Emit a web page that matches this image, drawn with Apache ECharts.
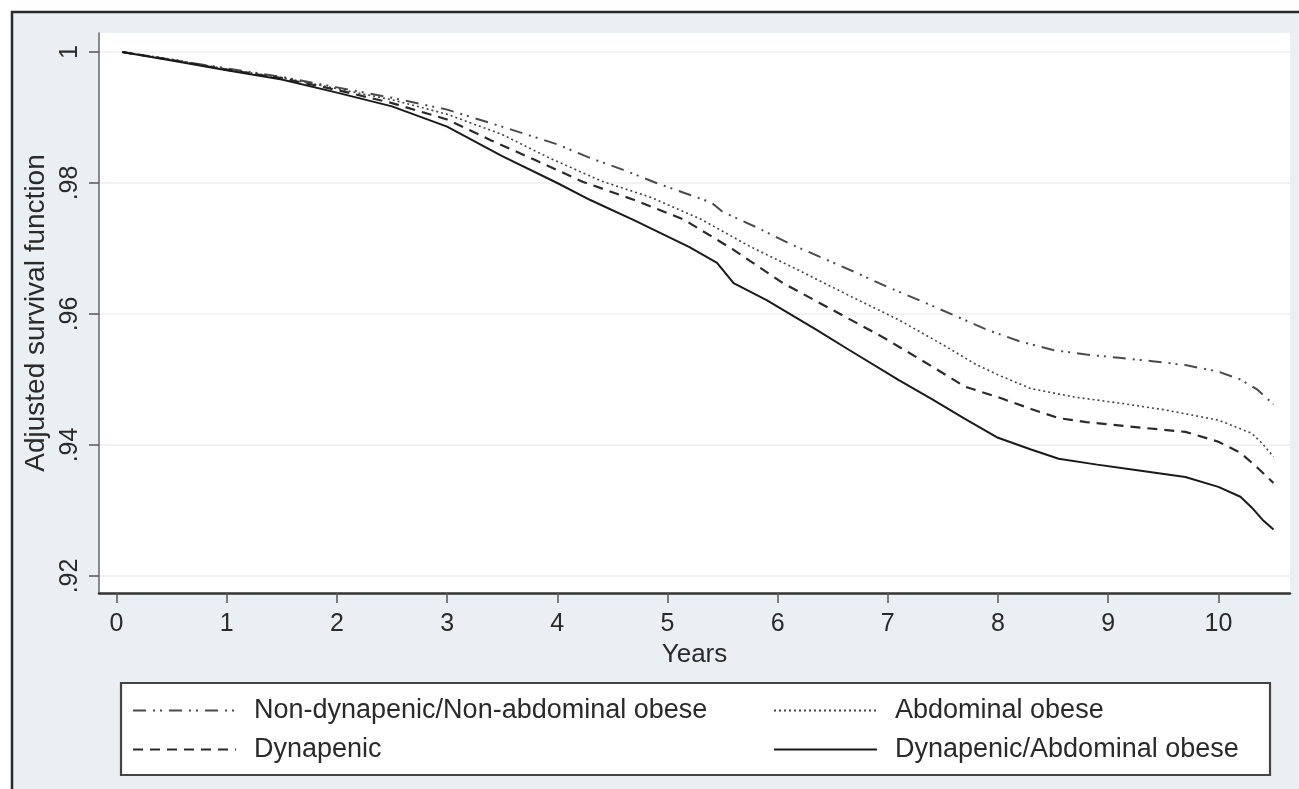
<!DOCTYPE html>
<html>
<head>
<meta charset="utf-8">
<script src="https://cdn.jsdelivr.net/npm/echarts@6/dist/echarts.min.js"></script>
<style>
html,body{margin:0;padding:0;background:#fff;}
#c{width:1299px;height:789px;}
</style>
</head>
<body>
<div id="c"></div>
<script>
// ---- data ----
const seriesNames = [
  'Non-dynapenic/Non-abdominal obese',
  'Abdominal obese',
  'Dynapenic',
  'Dynapenic/Abdominal obese'
];
const xTicks = [0,1,2,3,4,5,6,7,8,9,10];
const yTicks = [0.92,0.94,0.96,0.98,1];

const nonDynNonAbd = [[0.05,1.0],[0.5,0.9988],[1,0.9975],[1.5,0.9962],[2,0.9946],[2.5,0.9930],[3,0.9912],[3.5,0.9886],[4,0.9859],[4.3,0.9838],[4.6,0.9820],[4.9,0.9800],[5.2,0.9782],[5.4,0.9770],[5.5,0.9756],[5.8,0.9733],[6.1,0.9708],[6.4,0.9686],[6.7,0.9664],[7.0,0.9641],[7.3,0.9620],[7.6,0.9598],[7.9,0.9576],[8.2,0.9558],[8.5,0.9545],[8.8,0.9538],[9.1,0.9533],[9.4,0.9528],[9.7,0.9522],[10.0,0.9512],[10.2,0.9500],[10.35,0.9485],[10.5,0.9462]];
const abdominalObese = [[0.05,1.0],[0.5,0.9989],[1,0.9974],[1.5,0.9961],[2,0.9944],[2.5,0.9927],[3,0.9905],[3.5,0.9874],[3.93,0.9838],[4.4,0.9803],[4.85,0.9778],[5.3,0.9745],[5.75,0.9703],[6.2,0.9666],[6.65,0.9628],[7.1,0.9591],[7.5,0.9553],[7.8,0.9523],[8.0,0.9507],[8.3,0.9486],[8.7,0.9473],[9.1,0.9464],[9.5,0.9454],[10.0,0.9438],[10.3,0.9418],[10.4,0.9402],[10.5,0.9382]];
const dynapenic = [[0.05,1.0],[0.5,0.9988],[1,0.9973],[1.5,0.9960],[2,0.9942],[2.5,0.9922],[3,0.9897],[3.4,0.9865],[3.8,0.9835],[4.23,0.9802],[4.7,0.9774],[5.15,0.9744],[5.6,0.9698],[6.05,0.9647],[6.5,0.9606],[6.95,0.9565],[7.1,0.9550],[7.4,0.9520],[7.7,0.9489],[8.0,0.9473],[8.3,0.9455],[8.55,0.9441],[8.8,0.9435],[9.2,0.9428],[9.7,0.9420],[10.0,0.9405],[10.2,0.9388],[10.35,0.9366],[10.45,0.9350],[10.5,0.9342]];
const dynAbdObese = [[0.05,1.0],[0.5,0.9987],[1,0.9972],[1.5,0.9958],[2,0.9938],[2.5,0.9917],[3,0.9886],[3.5,0.9841],[4,0.9800],[4.3,0.9774],[4.7,0.9743],[5.2,0.9702],[5.45,0.9678],[5.6,0.9647],[5.9,0.9621],[6.35,0.9576],[6.65,0.9545],[7.1,0.9499],[7.4,0.9470],[7.7,0.9440],[8.0,0.9411],[8.3,0.9393],[8.55,0.9379],[8.9,0.9370],[9.2,0.9363],[9.7,0.9351],[10.0,0.9336],[10.2,0.9321],[10.3,0.9305],[10.4,0.9286],[10.5,0.9271]];

const FONT = '"Liberation Sans", Arial, Helvetica, sans-serif';
const chart = echarts.init(document.getElementById('c'), null, {renderer:'canvas'});

function legendItem(name, left, top){
  return {
    data:[name], left:left, top:top, orient:'horizontal', padding:0,
    itemWidth:103, itemHeight:14, selectedMode:false,
    itemStyle:{opacity:0, borderWidth:0},
    textStyle:{fontFamily:FONT, fontSize:27, color:'#2a2a2a', padding:[0,0,0,13]}
  };
}

const option = {
  backgroundColor:'#ffffff',
  animation:false,
  graphic:[
    {type:'rect', z:-100, shape:{x:12, y:12, width:1300, height:800},
     style:{fill:'#e9eff2', stroke:'#2b2b2b', lineWidth:2.5}},
    {type:'rect', z:-50, shape:{x:121, y:683, width:1149, height:92},
     style:{fill:'#ffffff', stroke:'#444', lineWidth:2.2}}
  ],
  grid:{left:99, right:9, top:33, bottom:196, show:true, backgroundColor:'#ffffff', borderWidth:0},
  xAxis:{
    type:'value', min:-0.159, max:10.65,
    name:'Years', nameLocation:'middle', nameGap:44,
    nameTextStyle:{fontFamily:FONT, fontSize:26, color:'#2a2a2a'},
    axisLine:{show:true, onZero:false, lineStyle:{color:'#333', width:2.5}},
    axisTick:{show:true, length:10, customValues:xTicks, lineStyle:{color:'#555', width:1.5}},
    axisLabel:{customValues:xTicks, margin:19, fontFamily:FONT, fontSize:25, color:'#2a2a2a'},
    splitLine:{show:false}
  },
  yAxis:{
    type:'value', min:0.9174, max:1.0029,
    name:'Adjusted survival function', nameLocation:'middle', nameGap:43,
    nameTextStyle:{fontFamily:FONT, fontSize:28, color:'#2a2a2a'},
    axisLine:{show:true, onZero:false, lineStyle:{color:'#666', width:1.5}},
    axisTick:{show:true, length:10, customValues:yTicks, lineStyle:{color:'#555', width:1.5}},
    axisLabel:{customValues:yTicks, rotate:90, margin:16, fontFamily:FONT, fontSize:25, color:'#2a2a2a',
      formatter:function(v){ return Math.abs(v-1)<1e-9 ? '1' : v.toFixed(2).replace(/^0/,''); }},
    splitLine:{show:true, lineStyle:{color:'#eeeeee', width:1.5}}
  },
  legend:[
    legendItem(seriesNames[0], 132, 697),
    legendItem(seriesNames[1], 773, 697),
    legendItem(seriesNames[2], 132, 736),
    legendItem(seriesNames[3], 773, 736)
  ],
  series:[
    {name:seriesNames[0], type:'line', data:nonDynNonAbd, showSymbol:false, symbol:'none', z:3,
     itemStyle:{color:'#4a4a4a'},
     lineStyle:{color:'#4a4a4a', width:2, type:[13,7,2,5,2,7]}},
    {name:seriesNames[1], type:'line', data:abdominalObese, showSymbol:false, symbol:'none', z:3,
     itemStyle:{color:'#444'},
     lineStyle:{color:'#444', width:1.6, type:[2,3]}},
    {name:seriesNames[2], type:'line', data:dynapenic, showSymbol:false, symbol:'none', z:3,
     itemStyle:{color:'#2a2a2a'},
     lineStyle:{color:'#2a2a2a', width:2.2, type:[10,7]}},
    {name:seriesNames[3], type:'line', data:dynAbdObese, showSymbol:false, symbol:'none', z:3,
     itemStyle:{color:'#1a1a1a'},
     lineStyle:{color:'#1a1a1a', width:2, type:'solid'}}
  ]
};
chart.setOption(option);
</script>
</body>
</html>
